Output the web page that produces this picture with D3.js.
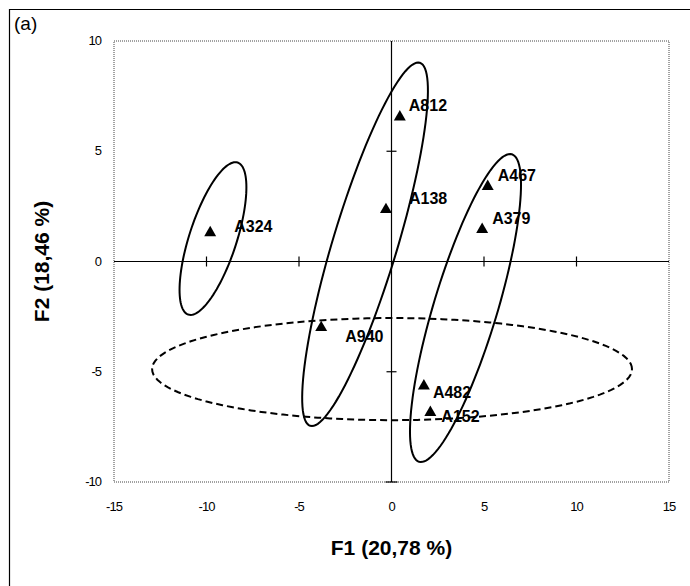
<!DOCTYPE html>
<html lang="en">
<head>
  <meta charset="UTF-8">
  <title>PCA F1 x F2</title>
  <script src="https://d3js.org/d3.v7.min.js"></script>
  <style>
    body { margin:0; background:#fff; }
    svg { display:block; font-family: Arial, "Liberation Sans", sans-serif; }
  </style>
</head>
<body>
  <script>
    // data
    const names = ["A324", "A812", "A138", "A467", "A379", "A940", "A482", "A152"];
    const f1 = [-9.8, 0.45, -0.3, 5.2, 4.9, -3.8, 1.75, 2.1];
    const f2 = [1.35, 6.6, 2.4, 3.45, 1.5, -2.95, -5.6, -6.8];

    // ellipses: centre (F1, F2), semi axes (in F1 units), tilt of major axis (deg)
    const ellCx = [-9.65, -1.43, 4.0, 0.03];
    const ellCy = [1.04, 0.78, -2.11, -4.88];
    const ellA = [4.32, 10.25, 8.68, 12.97];
    const ellB = [1.28, 1.74, 1.72, 2.76];
    const ellTilt = [72, 73.2, 73.2, 0];
    const ellDashed = [false, false, false, true];

    const xTicks = [-15, -10, -5, 0, 5, 10, 15];
    const yTicks = [-10, -5, 0, 5, 10];
    const xTitle = "F1 (20,78 %)";
    const yTitle = "F2 (18,46 %)";
    const panel = "(a)";

    // label offsets from the marker (px)
    const labelDx = [24, 9, 23, 10, 10, 24, 9, 11];
    const labelDy = [-6, -11, -11, -10, -10, 9, 7, 5];

    const W = 690, H = 586;
    const m = {left:114, right:21, top:41, bottom:104};

    const svg = d3.select("body").append("svg")
      .attr("width", W).attr("height", H);

    const x = d3.scaleLinear().domain([-15, 15]).range([m.left, W - m.right]);
    const y = d3.scaleLinear().domain([-10, 10]).range([H - m.bottom, m.top]);

    // outer frame (top + left only)
    svg.append("path")
      .attr("d", `M9.5,${H}V9.5H${W}`)
      .attr("fill", "none").attr("stroke", "#000").attr("stroke-width", 1.2);

    svg.append("text").attr("x", 14).attr("y", 30)
      .style("font-size", "19px").text(panel);

    // plot area, dotted
    svg.append("rect")
      .attr("x", x(-15)).attr("y", y(10))
      .attr("width", x(15) - x(-15)).attr("height", y(-10) - y(10))
      .attr("fill", "none").attr("stroke", "#444")
      .attr("stroke-width", 1).attr("stroke-dasharray", "1,1");

    // axes through origin with cross ticks
    const axisG = svg.append("g").attr("stroke", "#000").attr("stroke-width", 1.2);
    axisG.append("line")
      .attr("x1", x(-15)).attr("x2", x(15)).attr("y1", y(0)).attr("y2", y(0));
    axisG.append("line")
      .attr("x1", x(0)).attr("x2", x(0)).attr("y1", y(10)).attr("y2", y(-10));
    axisG.selectAll(".xt").data(xTicks.filter(d => d !== 0 && Math.abs(d) !== 15)).enter()
      .append("line")
      .attr("x1", d => x(d)).attr("x2", d => x(d))
      .attr("y1", y(0) - 5).attr("y2", y(0) + 5);
    axisG.selectAll(".yt").data(yTicks.filter(d => d !== 0 && Math.abs(d) !== 10)).enter()
      .append("line")
      .attr("y1", d => y(d)).attr("y2", d => y(d))
      .attr("x1", x(0) - 5).attr("x2", x(0) + 5);
    axisG.append("line")
      .attr("x1", x(0) - 6).attr("x2", x(0) + 6).attr("y1", y(-10)).attr("y2", y(-10));

    // tick labels
    svg.selectAll(".xl").data(xTicks).enter().append("text")
      .attr("x", d => x(d)).attr("y", H - m.bottom + 29)
      .attr("text-anchor", "middle")
      .style("font-size", "13px").style("letter-spacing", "-1px")
      .text(d => d);
    svg.selectAll(".yl").data(yTicks).enter().append("text")
      .attr("x", m.left - 13).attr("y", d => y(d) + 4)
      .attr("text-anchor", "end")
      .style("font-size", "13px").style("letter-spacing", "-1px")
      .text(d => d);

    // axis titles
    svg.append("text")
      .attr("x", x(0)).attr("y", 555)
      .attr("text-anchor", "middle")
      .style("font-size", "21px").style("font-weight", "bold")
      .text(xTitle);
    svg.append("text")
      .attr("transform", `translate(49,${y(0)}) rotate(-90)`)
      .attr("text-anchor", "middle")
      .style("font-size", "21px").style("font-weight", "bold")
      .text(yTitle);

    // ellipses
    const k = x(1) - x(0);
    const line = d3.line();
    ellCx.forEach((cx, i) => {
      const phi = ellTilt[i] * Math.PI / 180;
      const pts = d3.range(0, 361, 3).map(deg => {
        const t = deg * Math.PI / 180;
        const u = ellA[i] * k * Math.cos(t), v = ellB[i] * k * Math.sin(t);
        return [x(cx) + u * Math.cos(phi) - v * Math.sin(phi),
                y(ellCy[i]) - (u * Math.sin(phi) + v * Math.cos(phi))];
      });
      svg.append("path")
        .attr("d", line(pts) + "Z")
        .attr("fill", "none").attr("stroke", "#000").attr("stroke-width", 2)
        .attr("stroke-dasharray", ellDashed[i] ? "7,4" : null);
    });

    // markers + labels
    const pts = names.map((n, i) => ({name:n, f1:f1[i], f2:f2[i], dx:labelDx[i], dy:labelDy[i]}));
    svg.selectAll(".pt").data(pts).enter().append("path")
      .attr("d", d3.symbol(d3.symbolTriangle, 62))
      .attr("transform", d => `translate(${x(d.f1)},${y(d.f2) + 1})`)
      .attr("fill", "#000");
    svg.selectAll(".lb").data(pts).enter().append("text")
      .attr("x", d => x(d.f1) + d.dx).attr("y", d => y(d.f2) + d.dy + 6)
      .style("font-size", "16px").style("font-weight", "bold")
      .text(d => d.name);
  </script>
</body>
</html>
